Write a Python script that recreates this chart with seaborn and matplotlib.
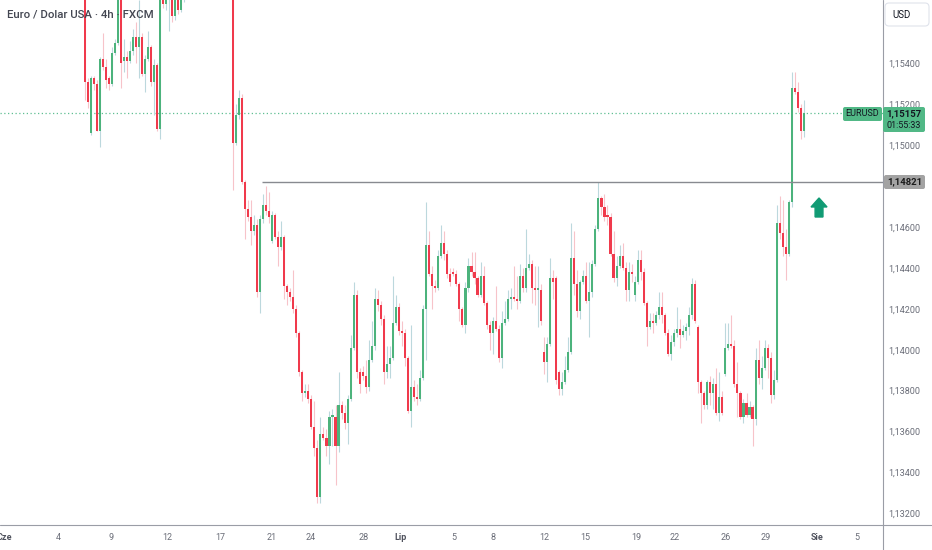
import numpy as np
import matplotlib
matplotlib.use("Agg")
import matplotlib.pyplot as plt
import seaborn as sns
from matplotlib.patches import FancyBboxPatch, Polygon
from matplotlib.lines import Line2D

# EURUSD 4h candles (FXCM)
opens = [
    1.1586, 1.1531, 1.1506, 1.1533, 1.1530, 1.1507, 1.1542, 1.1538, 1.1533, 1.1530,
    1.1545, 1.1550, 1.1572, 1.1541, 1.1543, 1.1541, 1.1546, 1.1553, 1.1548, 1.1553,
    1.1535, 1.1542, 1.1548, 1.1531, 1.1539, 1.1508, 1.1573, 1.1569, 1.1575, 1.1576,
    1.1563, 1.1573, 1.1566, 1.1571, 1.1576, 1.1582, 1.1588, 1.1585, 1.1594, 1.1601,
    1.1597, 1.1604, 1.1596, 1.1599, 1.1590, 1.1593, 1.1587, 1.1595, 1.1589, 1.1581,
    1.1501, 1.1515, 1.1523, 1.1482, 1.1469, 1.1465, 1.1458, 1.1461, 1.1428, 1.1464,
    1.1471, 1.1468, 1.1453, 1.1466, 1.1455, 1.1450, 1.1455, 1.1431, 1.1428, 1.1426,
    1.1420, 1.1408, 1.1389, 1.1379, 1.1380, 1.1376, 1.1362, 1.1352, 1.1328, 1.1359,
    1.1357, 1.1353, 1.1367, 1.1367, 1.1353, 1.1373, 1.1369, 1.1364, 1.1376, 1.1401,
    1.1427, 1.1389, 1.1389, 1.1387, 1.1382, 1.1395, 1.1402, 1.1425, 1.1422, 1.1415,
    1.1389, 1.1393, 1.1396, 1.1413, 1.1421, 1.1409, 1.1408, 1.1396, 1.1370, 1.1382,
    1.1377, 1.1376, 1.1386, 1.1420, 1.1451, 1.1437, 1.1431, 1.1430, 1.1446, 1.1452,
    1.1447, 1.1437, 1.1438, 1.1437, 1.1432, 1.1420, 1.1412, 1.1430, 1.1441, 1.1438,
    1.1435, 1.1427, 1.1436, 1.1423, 1.1412, 1.1408, 1.1414, 1.1410, 1.1396, 1.1413,
    1.1415, 1.1425, 1.1426, 1.1425, 1.1424, 1.1436, 1.1430, 1.1440, 1.1442, 1.1430,
    1.1429, 1.1429, 1.1399, 1.1394, 1.1403, 1.1435, 1.1435, 1.1389, 1.1381, 1.1384,
    1.1390, 1.1399, 1.1445, 1.1432, 1.1419, 1.1433, 1.1436, 1.1424, 1.1428, 1.1442,
    1.1459, 1.1474, 1.1470, 1.1466, 1.1465, 1.1447, 1.1435, 1.1441, 1.1446, 1.1440,
    1.1429, 1.1438, 1.1427, 1.1433, 1.1444, 1.1438, 1.1423, 1.1411, 1.1414, 1.1413,
    1.1417, 1.1421, 1.1417, 1.1408, 1.1398, 1.1404, 1.1408, 1.1410, 1.1407, 1.1409,
    1.1411, 1.1417, 1.1432, 1.1411, 1.1384, 1.1379, 1.1373, 1.1384, 1.1379, 1.1383,
    1.1369, 1.1377, 1.1388, 1.1401, 1.1403, 1.1402, 1.1383, 1.1379, 1.1367, 1.1374,
    1.1368, 1.1372, 1.1366, 1.1395, 1.1386, 1.1391, 1.1401, 1.1396, 1.1378, 1.1385,
    1.1462, 1.1457, 1.1450, 1.1447, 1.1472, 1.1528, 1.1526, 1.1518, 1.1507,
]
closes = [
    1.1531, 1.1521, 1.1533, 1.1530, 1.1507, 1.1542, 1.1538, 1.1532, 1.1530, 1.1545,
    1.1550, 1.1572, 1.1540, 1.1543, 1.1541, 1.1546, 1.1553, 1.1548, 1.1553, 1.1535,
    1.1542, 1.1548, 1.1531, 1.1539, 1.1508, 1.1573, 1.1569, 1.1575, 1.1578, 1.1563,
    1.1573, 1.1566, 1.1571, 1.1576, 1.1582, 1.1588, 1.1585, 1.1594, 1.1601, 1.1597,
    1.1604, 1.1596, 1.1599, 1.1590, 1.1593, 1.1587, 1.1595, 1.1589, 1.1583, 1.1501,
    1.1515, 1.1523, 1.1482, 1.1469, 1.1465, 1.1458, 1.1461, 1.1428, 1.1464, 1.1471,
    1.1468, 1.1465, 1.1466, 1.1455, 1.1450, 1.1455, 1.1431, 1.1428, 1.1426, 1.1420,
    1.1408, 1.1389, 1.1379, 1.1380, 1.1376, 1.1362, 1.1352, 1.1328, 1.1359, 1.1357,
    1.1353, 1.1367, 1.1368, 1.1353, 1.1373, 1.1369, 1.1364, 1.1376, 1.1401, 1.1427,
    1.1389, 1.1383, 1.1387, 1.1382, 1.1395, 1.1402, 1.1425, 1.1422, 1.1415, 1.1389,
    1.1393, 1.1396, 1.1413, 1.1421, 1.1409, 1.1408, 1.1396, 1.1370, 1.1382, 1.1377,
    1.1376, 1.1386, 1.1420, 1.1451, 1.1437, 1.1431, 1.1430, 1.1446, 1.1452, 1.1447,
    1.1437, 1.1433, 1.1437, 1.1432, 1.1420, 1.1412, 1.1430, 1.1441, 1.1438, 1.1435,
    1.1427, 1.1436, 1.1423, 1.1412, 1.1408, 1.1414, 1.1410, 1.1396, 1.1413, 1.1415,
    1.1425, 1.1426, 1.1425, 1.1424, 1.1436, 1.1430, 1.1440, 1.1442, 1.1430, 1.1429,
    1.1430, 1.1414, 1.1394, 1.1403, 1.1435, 1.1433, 1.1385, 1.1381, 1.1384, 1.1390,
    1.1399, 1.1445, 1.1432, 1.1419, 1.1433, 1.1436, 1.1424, 1.1428, 1.1442, 1.1459,
    1.1474, 1.1470, 1.1465, 1.1465, 1.1447, 1.1435, 1.1441, 1.1446, 1.1440, 1.1429,
    1.1438, 1.1437, 1.1433, 1.1444, 1.1438, 1.1423, 1.1411, 1.1414, 1.1413, 1.1417,
    1.1421, 1.1417, 1.1408, 1.1398, 1.1404, 1.1408, 1.1410, 1.1407, 1.1409, 1.1411,
    1.1417, 1.1432, 1.1414, 1.1384, 1.1379, 1.1373, 1.1384, 1.1379, 1.1383, 1.1369,
    1.1377, 1.1369, 1.1401, 1.1403, 1.1402, 1.1383, 1.1379, 1.1367, 1.1374, 1.1368,
    1.1372, 1.1366, 1.1395, 1.1386, 1.1391, 1.1401, 1.1396, 1.1378, 1.1385, 1.1462,
    1.1457, 1.1450, 1.1447, 1.1472, 1.1528, 1.1526, 1.1518, 1.1507, 1.15157,
]
highs = [
    1.1588, 1.1533, 1.1534, 1.1534, 1.1532, 1.1543, 1.1555, 1.1542, 1.1534, 1.1548,
    1.1552, 1.1576, 1.1575, 1.1552, 1.1546, 1.1551, 1.1557, 1.1560, 1.1571, 1.1555,
    1.1544, 1.1556, 1.1549, 1.1542, 1.1540, 1.1576, 1.1576, 1.1578, 1.1581, 1.1578,
    1.1577, 1.1576, 1.1575, 1.1578, 1.1585, 1.1591, 1.1593, 1.1598, 1.1606, 1.1605,
    1.1612, 1.1609, 1.1603, 1.1602, 1.1597, 1.1596, 1.1598, 1.1599, 1.1592, 1.1583,
    1.1520, 1.1527, 1.1525, 1.1483, 1.1473, 1.1473, 1.1466, 1.1464, 1.1466, 1.1476,
    1.1480, 1.1477, 1.1468, 1.1467, 1.1458, 1.1463, 1.1456, 1.1432, 1.1430, 1.1439,
    1.1422, 1.1409, 1.1390, 1.1383, 1.1383, 1.1378, 1.1375, 1.1356, 1.1367, 1.1362,
    1.1361, 1.1370, 1.1371, 1.1373, 1.1389, 1.1375, 1.1373, 1.1378, 1.1407, 1.1433,
    1.1429, 1.1391, 1.1392, 1.1395, 1.1405, 1.1414, 1.1430, 1.1429, 1.1424, 1.1417,
    1.1402, 1.1402, 1.1436, 1.1427, 1.1423, 1.1414, 1.1410, 1.1397, 1.1412, 1.1385,
    1.1383, 1.1390, 1.1422, 1.1472, 1.1458, 1.1441, 1.1434, 1.1449, 1.1461, 1.1458,
    1.1449, 1.1440, 1.1440, 1.1439, 1.1433, 1.1421, 1.1433, 1.1445, 1.1448, 1.1448,
    1.1436, 1.1443, 1.1441, 1.1424, 1.1414, 1.1416, 1.1431, 1.1412, 1.1419, 1.1424,
    1.1429, 1.1430, 1.1441, 1.1436, 1.1442, 1.1440, 1.1459, 1.1447, 1.1444, 1.1441,
    1.1441, 1.1432, 1.1406, 1.1406, 1.1445, 1.1439, 1.1436, 1.1390, 1.1389, 1.1397,
    1.1406, 1.1462, 1.1458, 1.1439, 1.1434, 1.1439, 1.1443, 1.1443, 1.1444, 1.1461,
    1.1482, 1.1475, 1.1476, 1.1471, 1.1467, 1.1458, 1.1446, 1.1451, 1.1452, 1.1443,
    1.1443, 1.1442, 1.1436, 1.1449, 1.1449, 1.1440, 1.1424, 1.1418, 1.1418, 1.1419,
    1.1428, 1.1428, 1.1418, 1.1410, 1.1407, 1.1410, 1.1421, 1.1415, 1.1412, 1.1413,
    1.1421, 1.1435, 1.1434, 1.1412, 1.1385, 1.1380, 1.1385, 1.1387, 1.1386, 1.1391,
    1.1389, 1.1380, 1.1413, 1.1413, 1.1417, 1.1405, 1.1394, 1.1380, 1.1376, 1.1379,
    1.1375, 1.1373, 1.1401, 1.1405, 1.1397, 1.1405, 1.1403, 1.1399, 1.1390, 1.1471,
    1.1475, 1.1473, 1.1459, 1.1473, 1.1536, 1.1536, 1.1531, 1.1520, 1.1522,
]
lows = [
    1.1522, 1.1518, 1.1505, 1.1527, 1.1507, 1.1499, 1.1537, 1.1528, 1.1527, 1.1529,
    1.1544, 1.1549, 1.1528, 1.1536, 1.1533, 1.1540, 1.1544, 1.1540, 1.1533, 1.1534,
    1.1526, 1.1541, 1.1529, 1.1515, 1.1507, 1.1503, 1.1567, 1.1566, 1.1556, 1.1560,
    1.1561, 1.1564, 1.1565, 1.1570, 1.1574, 1.1579, 1.1581, 1.1583, 1.1590, 1.1592,
    1.1594, 1.1591, 1.1590, 1.1586, 1.1585, 1.1583, 1.1584, 1.1584, 1.1579, 1.1478,
    1.1500, 1.1513, 1.1481, 1.1454, 1.1463, 1.1451, 1.1456, 1.1426, 1.1418, 1.1462,
    1.1466, 1.1462, 1.1452, 1.1454, 1.1441, 1.1449, 1.1425, 1.1422, 1.1424, 1.1418,
    1.1406, 1.1387, 1.1375, 1.1377, 1.1374, 1.1361, 1.1348, 1.1325, 1.1325, 1.1356,
    1.1348, 1.1344, 1.1353, 1.1334, 1.1350, 1.1366, 1.1361, 1.1354, 1.1375, 1.1400,
    1.1386, 1.1379, 1.1385, 1.1379, 1.1380, 1.1394, 1.1400, 1.1419, 1.1412, 1.1383,
    1.1386, 1.1386, 1.1395, 1.1412, 1.1407, 1.1402, 1.1392, 1.1369, 1.1362, 1.1375,
    1.1373, 1.1375, 1.1385, 1.1395, 1.1436, 1.1420, 1.1428, 1.1429, 1.1445, 1.1444,
    1.1435, 1.1431, 1.1436, 1.1431, 1.1414, 1.1411, 1.1408, 1.1428, 1.1436, 1.1432,
    1.1426, 1.1426, 1.1422, 1.1410, 1.1400, 1.1398, 1.1409, 1.1394, 1.1391, 1.1412,
    1.1414, 1.1420, 1.1424, 1.1420, 1.1423, 1.1428, 1.1428, 1.1439, 1.1423, 1.1422,
    1.1411, 1.1412, 1.1388, 1.1384, 1.1402, 1.1425, 1.1383, 1.1378, 1.1378, 1.1383,
    1.1389, 1.1398, 1.1427, 1.1416, 1.1415, 1.1432, 1.1423, 1.1406, 1.1426, 1.1441,
    1.1458, 1.1466, 1.1463, 1.1461, 1.1446, 1.1433, 1.1431, 1.1440, 1.1439, 1.1424,
    1.1424, 1.1433, 1.1424, 1.1432, 1.1434, 1.1422, 1.1402, 1.1410, 1.1408, 1.1412,
    1.1415, 1.1413, 1.1407, 1.1397, 1.1395, 1.1402, 1.1406, 1.1401, 1.1406, 1.1405,
    1.1407, 1.1415, 1.1413, 1.1379, 1.1364, 1.1371, 1.1371, 1.1373, 1.1371, 1.1368,
    1.1365, 1.1368, 1.1387, 1.1400, 1.1401, 1.1382, 1.1367, 1.1366, 1.1364, 1.1367,
    1.1367, 1.1353, 1.1363, 1.1383, 1.1381, 1.1390, 1.1386, 1.1374, 1.1376, 1.1384,
    1.1454, 1.1446, 1.1434, 1.1446, 1.1470, 1.1525, 1.1516, 1.1503, 1.1504,
]

# date labels and the candle they fall on
tick_pos = [-26.7, -8.8, 8.7, 27.2, 44.9, 62.0, 74.9, 92.3, 104.5, 122.2,
            135.1, 152.0, 165.6, 182.5, 195.4, 212.2, 225.5, 242.3, 255.6]
tick_labels = ['Cze', '4', '9', '12', '17', '21', '24', '28', 'Lip', '5',
               '8', '12', '15', '19', '22', '26', '29', 'Sie', '5']
month_labels = ['Cze', 'Lip', 'Sie']

# 1,14800 and 1,15600 sit under the scale labels, so they are not listed
price_ticks = [1.132, 1.134, 1.136, 1.138, 1.140, 1.142, 1.144,
               1.146, 1.150, 1.152, 1.154]
level_price = 1.14821
level_start = 58.7
last_price = 1.15157
symbol = 'EURUSD'
countdown = '01:55:33'
title = 'Euro / Dolar USA · 4h · FXCM'

UP = '#4cb37c'
DOWN = '#f03a4c'
UP_WICK = '#bcd8dd'
DOWN_WICK = '#f7c3c9'

sns.set_theme(style='white')
plt.rcParams['font.family'] = ['Roboto', 'DejaVu Sans']

o = np.array(opens)
c = np.array(closes)
h = np.maximum(np.array(highs), np.maximum(o, c))
l = np.minimum(np.array(lows), np.minimum(o, c))
x = np.arange(len(c))
up = c >= o

W, H = 932, 550
fig = plt.figure(figsize=(W / 100, H / 100), dpi=100)
fig.patch.set_facecolor('white')
ax = fig.add_axes([0, 25 / H, 883 / W, 525 / H])
ax.set_facecolor('white')

ax.vlines(x, l, h, colors=np.where(up, UP_WICK, DOWN_WICK), linewidth=0.8, zorder=2)
body_lo = np.minimum(o, c)
body_h = np.maximum(np.abs(c - o), 0.00005)
ax.bar(x, body_h, bottom=body_lo, width=0.7, color=np.where(up, UP, DOWN),
       linewidth=0, zorder=3)

ax.set_xlim(-28.03, 264.17)
ax.set_ylim(1.13143, 1.15710)

# horizontal level and current price line
ax.hlines(level_price, level_start, 264.17, color='#888a90', linewidth=1.0, zorder=4)
ax.axhline(last_price, color='#5fbf92', linewidth=0.9, linestyle=(0, (1, 2)), zorder=1)

# up arrow
ax.add_patch(Polygon([(240.35, 1.14698), (243.0, 1.14742), (245.65, 1.14698),
                      (244.3, 1.14698), (244.3, 1.14649), (241.7, 1.14649),
                      (241.7, 1.14698)], closed=True, color='#119b74', zorder=5))

for s in ax.spines.values():
    s.set_visible(False)

ax.yaxis.tick_right()
ax.set_yticks(price_ticks)
ax.set_yticklabels([f'{p:.5f}'.replace('.', ',') for p in price_ticks])
ax.tick_params(axis='y', length=0, pad=4, labelsize=6.5, labelcolor='#6a6d78')
ax.set_xticks(tick_pos)
ax.set_xticklabels(tick_labels)
ax.tick_params(axis='x', length=0, pad=6, labelsize=6.5, labelcolor='#6a6d78')
for t in ax.get_xticklabels():
    if t.get_text() in month_labels:
        t.set_fontweight('bold')
        t.set_color('#50535e')
ax.grid(False)

# frame lines of the price and time scales
fig.add_artist(Line2D([0, 1], [25 / H, 25 / H], color='#9a9da6', linewidth=0.8))
fig.add_artist(Line2D([883 / W, 883 / W], [0, 1], color='#9a9da6', linewidth=0.8))


def px_box(x0, y0, x1, y1, fc, ec='none', r=0.02):
    box = FancyBboxPatch((x0 / 100, (H - y1) / 100), (x1 - x0) / 100, (y1 - y0) / 100,
                         boxstyle=f'round,pad=0,rounding_size={r}',
                         transform=fig.dpi_scale_trans, fc=fc, ec=ec, lw=0.8, zorder=5)
    fig.add_artist(box)


def px_text(x0, y0, s, **kw):
    fig.text(x0 / W, 1 - y0 / H, s, va='center', zorder=6, **kw)


px_box(885, 3, 929, 26, 'white', ec='#e0e3eb', r=0.04)
px_text(892, 15, 'USD', fontsize=7, color='#131722')

px_box(843, 107, 882, 121, '#51b886', r=0.02)
px_text(862.5, 114, symbol, fontsize=6.5, color='#131722', ha='center')
px_box(883, 107, 925, 132, '#51b886', r=0.02)
px_text(904, 114, f'{last_price:.5f}'.replace('.', ','), fontsize=6.8,
        color='#131722', ha='center', fontweight='bold')
px_text(904, 125, countdown, fontsize=6.5, color='#131722', ha='center')

px_box(884, 175, 925, 189, '#a3a3a3', r=0.02)
px_text(904.5, 182, f'{level_price:.5f}'.replace('.', ','), fontsize=6.8,
        color='#1c1c1c', ha='center', fontweight='bold')

px_text(7, 15, title, fontsize=8.2, color='#434651', fontweight='medium')

fig.savefig('out.png', dpi=100, facecolor='white')
